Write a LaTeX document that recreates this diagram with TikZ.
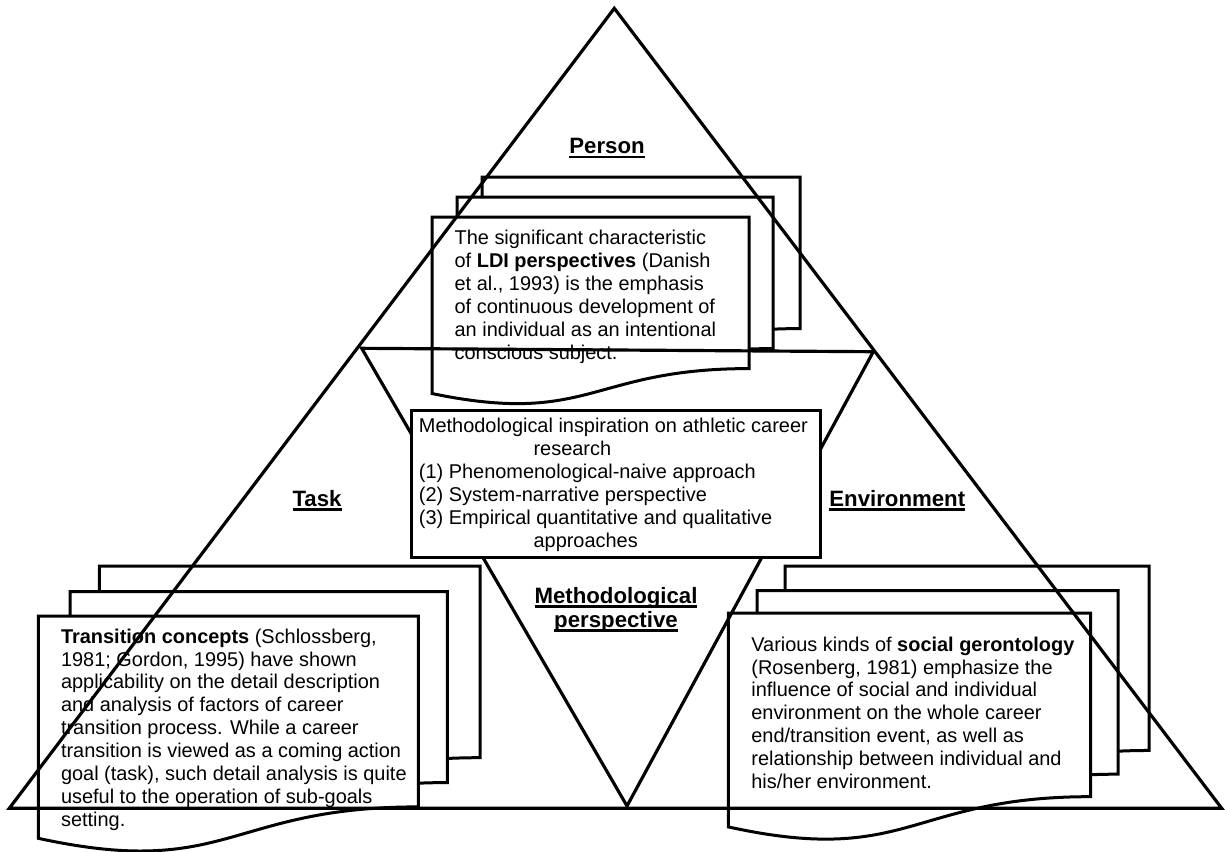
\documentclass[tikz,border=0pt]{standalone}
\usepackage{fontspec}
\setmainfont{Liberation Sans}
\newsavebox\ulbox
\newcommand\myul[1]{\sbox\ulbox{#1}\rlap{\rule[-2.6pt]{\wd\ulbox}{1.3pt}}\usebox\ulbox}
% document shape: left, top, right, height
\newcommand\docshape[4]{%
  \draw[boxline] (#1,#2) -- (#3,#2) -- (#3,{#2+0.802*#4})
    .. controls ({(#1+#3)/2},{#2+0.802*#4}) and ({(#1+#3)/2},{#2+1.1076*#4}) ..
    (#1,{#2+0.934*#4}) -- cycle;}
\tikzset{
  boxline/.style={line width=1.7pt, fill=white, line join=miter},
  triline/.style={line width=1.8pt, line join=miter},
  bodytext/.style={inner sep=0pt, anchor=north west, align=left,
    font=\fontsize{11.3}{13}\selectfont},
  lbl/.style={inner sep=0pt, font=\fontsize{12.6}{13.6}\selectfont\bfseries},
}
\begin{document}
\begin{tikzpicture}[x=0.567pt, y=-0.567pt]
\useasboundingbox (0,0) rectangle (1225,851);
% Person stack
\docshape{482}{177}{800}{189}
\docshape{457}{197}{773}{189}
\docshape{432}{217}{749}{189}
% Task stack
\docshape{99.3}{566}{480}{239}
\docshape{70}{591.7}{447.3}{238}
\docshape{38.3}{616}{418.3}{238}
% Environment stack
\docshape{785}{566}{1149}{230}
\docshape{757}{590.5}{1118}{229}
\docshape{728.3}{613}{1090.7}{229}
% box texts
\node[bodytext] (persontext) at (454.3,228) {\strut The significant characteristic\\
of \textbf{LDI perspectives} (Danish\\
et al., 1993) is the emphasis\\
of continuous development of\\
an individual as an intentional\\
conscious subject.};
\node[bodytext] (tasktext) at (60.7,626.7) {\strut\textbf{Transition concepts} (Schlossberg,\\
1981; Gordon, 1995) have shown\\
applicability on the detail description\\
and analysis of factors of career\\
transition process. While a career\\
transition is viewed as a coming action\\
goal (task), such detail analysis is quite\\
useful to the operation of sub-goals\\
setting.};
\node[bodytext] (envtext) at (751,634.7) {\strut Various kinds of \textbf{social gerontology}\\
(Rosenberg, 1981) emphasize the\\
influence of social and individual\\
environment on the whole career\\
end/transition event, as well as\\
relationship between individual and\\
his/her environment.};
% triangles
\coordinate (apex) at (614.3,8.3);
\coordinate (bl) at (9.3,808.3);
\coordinate (br) at (1221.7,808.3);
\coordinate (itl) at (361.7,348.3);
\coordinate (itr) at (873.3,351.7);
\coordinate (ib) at (627,806);
\draw[triline] (apex) -- (br) -- (bl) -- cycle;
\draw[triline] (itl) -- (itr) -- (ib) -- cycle;
% centre box
\draw[boxline] (411,410.5) rectangle (820,557.3);
\node[bodytext] (methtext) at (418.6,416) {\strut Methodological inspiration on athletic career\\
\hspace*{65pt}research\\
(1) Phenomenological-naive approach\\
(2) System-narrative perspective\\
(3) Empirical quantitative and qualitative\\
\hspace*{65pt}approaches};
% labels
\node[lbl, anchor=base] (person) at (607,153.3) {\myul{Person}};
\node[lbl, anchor=base] (task) at (317,506) {\myul{Task}};
\node[lbl, anchor=base west] (env) at (829,506) {\myul{Environment}};
\node[lbl, anchor=north, align=center] (methp) at (616,585.9) {\myul{\strut Methodological}\\\myul{perspective}};
\end{tikzpicture}
\end{document}
